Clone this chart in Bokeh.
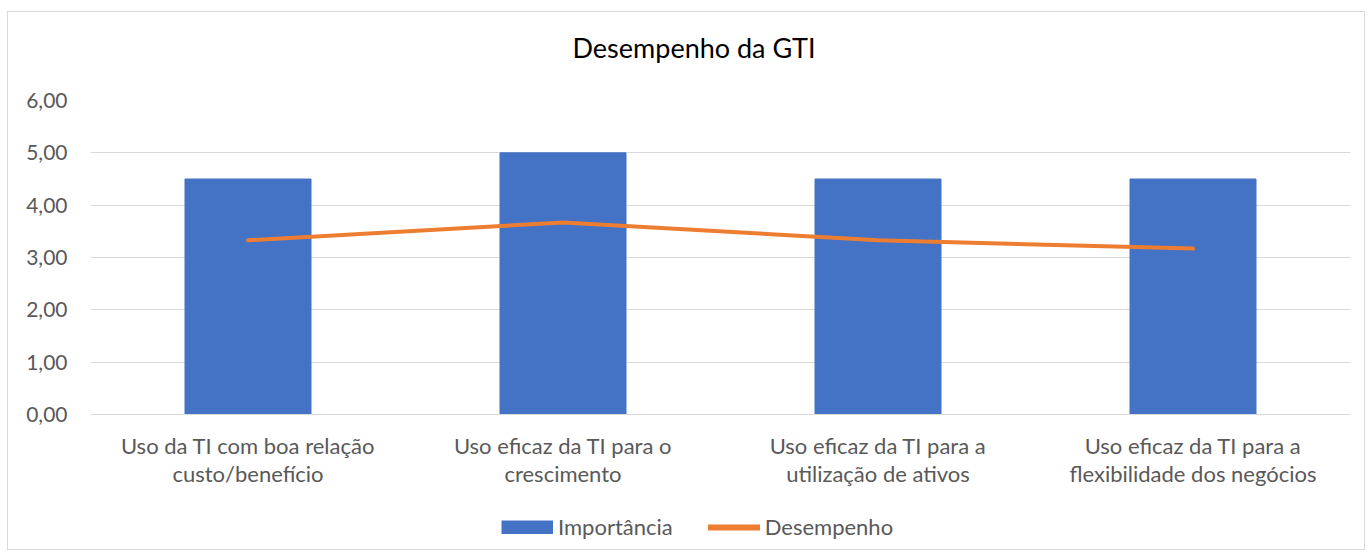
from bokeh.plotting import figure
from bokeh.layouts import column
from bokeh.models import (FactorRange, Range1d, FixedTicker, CustomJSTickFormatter,
                          Legend, LegendItem, ColumnDataSource)
from bokeh.embed import file_html
from bokeh.resources import INLINE

categories = ["Uso da TI com boa relação\ncusto/benefício",
              "Uso eficaz da TI para o\ncrescimento",
              "Uso eficaz da TI para a\nutilização de ativos",
              "Uso eficaz da TI para a\nflexibilidade dos negócios"]
importancia = [4.5, 5.0, 4.5, 4.5]
desempenho = [3.33, 3.67, 3.33, 3.17]
y_ticks = [0, 1, 2, 3, 4, 5, 6]
series_names = ["Importância", "Desempenho"]
title_text = "Desempenho da GTI"

FONT = "Lato"
BLUE = "#4472C4"
ORANGE = "#ED7D31"

src = ColumnDataSource(dict(cat=categories, imp=importancia, des=desempenho))

p = figure(x_range=FactorRange(*categories, range_padding=0), y_range=Range1d(0, 6),
           width=1356, height=488, output_backend="svg", toolbar_location=None,
           min_border_left=82, min_border_right=14, min_border_top=88, min_border_bottom=86)
p.outline_line_color = None

p.vbar(x="cat", top="imp", width=0.4, source=src, color=BLUE)
p.line(x="cat", y="des", source=src, line_color=ORANGE, line_width=4,
       line_cap="round", line_join="round")

# trailing blank line lifts the title above the plot area
p.title.text = title_text + "\n"
p.title.align = "left"
p.title.offset = 482
p.title.text_font = FONT
p.title.text_font_size = "27px"
p.title.text_font_style = "normal"
p.title.text_color = "#000000"
p.title.standoff = 8

p.yaxis.ticker = FixedTicker(ticks=y_ticks)
p.yaxis.formatter = CustomJSTickFormatter(code="return tick.toFixed(2).replace('.', ',');")
p.yaxis.axis_line_color = None
p.yaxis.major_tick_line_color = None
p.yaxis.minor_tick_line_color = None
p.yaxis.major_label_standoff = 17
p.yaxis.major_label_text_font = FONT
p.yaxis.major_label_text_font_size = "21px"
p.yaxis.major_label_text_color = "#595959"

p.xaxis.axis_line_color = "#D9D9D9"
p.xaxis.major_tick_line_color = None
p.xaxis.minor_tick_line_color = None
p.xaxis.major_label_standoff = 11
p.xaxis.major_label_text_font = FONT
p.xaxis.major_label_text_font_size = "22px"
p.xaxis.major_label_text_color = "#595959"
p.xaxis.major_label_text_line_height = 1.06

p.xgrid.grid_line_color = None
p.ygrid.grid_line_color = "#D9D9D9"
p.ygrid.grid_line_width = 1

# legend strip below the chart (its glyphs lie outside its visible range)
pl = figure(width=1356, height=49, output_backend="svg", toolbar_location=None,
            x_range=FactorRange(*categories, range_padding=0), y_range=Range1d(100, 101),
            x_axis_location=None, y_axis_location=None,
            min_border=0, min_border_left=0, min_border_right=0,
            min_border_top=0, min_border_bottom=0)
pl.outline_line_color = None
pl.grid.visible = False
lb = pl.line(x="cat", y="imp", source=src, line_color=BLUE, line_width=14, line_cap="butt")
ll = pl.line(x="cat", y="des", source=src, line_color=ORANGE, line_width=6, line_cap="round")

legend = Legend(items=[LegendItem(label=series_names[0], renderers=[lb]),
                       LegendItem(label=series_names[1], renderers=[ll])],
                orientation="horizontal", location=(411, 9),
                glyph_width=52, glyph_height=14, label_standoff=5, spacing=35,
                padding=0, margin=0, border_line_color=None, background_fill_alpha=0,
                label_text_font=FONT, label_text_font_size="22px",
                label_text_color="#595959")
pl.add_layout(legend, "center")

layout = column(p, pl, spacing=0, margin=(11, 0, 0, 7),
                styles={"border": "1px solid #D9D9D9"})

open("out.html", "w").write(file_html(layout, INLINE))
